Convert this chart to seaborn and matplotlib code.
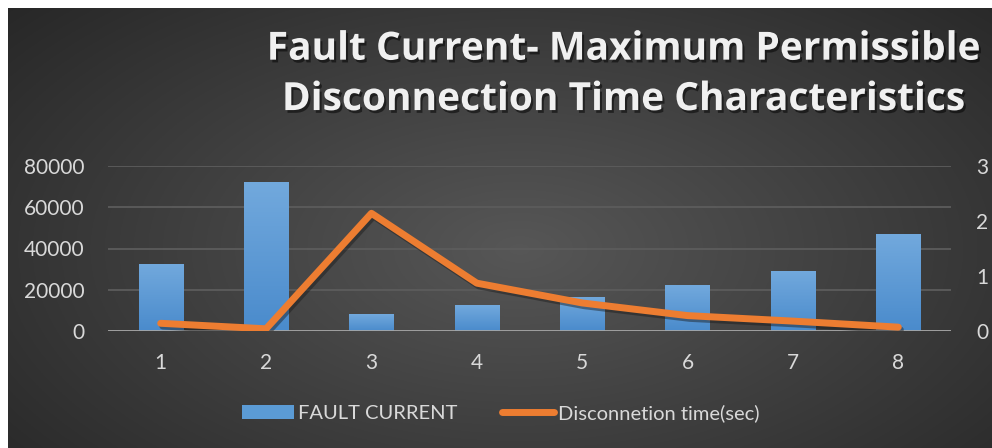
import numpy as np
import pandas as pd
import matplotlib
matplotlib.use("Agg")
import matplotlib.pyplot as plt
import matplotlib.patheffects as pe
from matplotlib.patches import Patch
from matplotlib.lines import Line2D
import seaborn as sns

# data
categories = ["1", "2", "3", "4", "5", "6", "7", "8"]
fault_current = [32500, 72300, 8200, 12600, 16600, 22300, 29100, 47100]
disconnection_time = [0.14, 0.04, 2.14, 0.87, 0.51, 0.28, 0.18, 0.07]
left_ticks = [0, 20000, 40000, 60000, 80000]
right_ticks = [0, 1, 2, 3]

sns.set_theme(style="dark")
plt.rcParams["font.family"] = ["Lato", "DejaVu Sans"]

TXT = "#d9d9d9"
BLUE = "#5b9bd5"
ORANGE = "#ed7d31"

fig = plt.figure(figsize=(9.92, 4.48), dpi=100)
fig.patch.set_facecolor("white")

# dark radial background
bg = fig.add_axes([8 / 992, 0, 1 - 8 / 992, 1 - 8 / 448], zorder=-5)
yy, xx = np.mgrid[0:1:300j, 0:1:600j]
r = np.sqrt(((xx - 0.52) / 0.75) ** 2 + ((yy - 0.55) / 0.9) ** 2)
g = np.clip(0.34 - 0.2 * r, 0.15, 0.34)
bg.imshow(np.dstack([g, g, g]), aspect="auto", extent=[0, 1, 0, 1])
bg.set_axis_off()

ax = fig.add_axes([108 / 992, 1 - 331 / 448, (951 - 108) / 992, (331 - 166) / 448])
ax.patch.set_alpha(0)

df = pd.DataFrame({"cat": categories, "current": fault_current, "time": disconnection_time})
sns.barplot(data=df, x="cat", y="current", color=BLUE, width=0.42,
            saturation=1, ax=ax, zorder=3, edgecolor="none", linewidth=0)

# vertical gradient on the bars
grad = np.linspace(0, 1, 100).reshape(-1, 1)
cmap = matplotlib.colors.LinearSegmentedColormap.from_list("b", ["#72a9dd", "#4a8bcc"])
for p in ax.patches:
    x0, y0 = p.get_x(), p.get_y()
    w, h = p.get_width(), p.get_height()
    im = ax.imshow(grad, cmap=cmap, aspect="auto", extent=[x0, x0 + w, y0, y0 + h],
                   origin="upper", zorder=3.5)
    im.set_clip_path(p)

ax.set_xlim(-0.5, len(categories) - 0.5)
ax.set_ylim(0, 80000)
ax.set_yticks(left_ticks)
ax.set_yticklabels([str(t) for t in left_ticks])
ax.set_xlabel("")
ax.set_ylabel("")
ax.grid(axis="y", color="#5c5c5c", linewidth=1.3, zorder=0)
ax.grid(axis="x", visible=False)
ax.axhline(0, color="#a6a6a6", linewidth=2, zorder=4)
for s in ax.spines.values():
    s.set_visible(False)
ax.tick_params(axis="both", colors=TXT, labelsize=15, length=0)
ax.tick_params(axis="x", pad=16)
ax.tick_params(axis="y", pad=17)

ax2 = ax.twinx()
sns.lineplot(x=np.arange(len(categories)), y=disconnection_time, ax=ax2, color=ORANGE,
             linewidth=5, solid_capstyle="round", solid_joinstyle="round", zorder=5,
             path_effects=[pe.SimpleLineShadow(offset=(1.5, -2), alpha=0.45), pe.Normal()])
ax2.set_ylim(0, 3)
ax2.set_yticks(right_ticks)
ax2.set_xlim(-0.5, len(categories) - 0.5)
ax2.grid(False)
ax2.patch.set_alpha(0)
for s in ax2.spines.values():
    s.set_visible(False)
ax2.tick_params(axis="y", colors=TXT, labelsize=15, length=0, pad=18)

title = fig.text(0.628, 0.834, "Fault Current- Maximum Permissible\nDisconnection Time Characteristics",
                 ha="center", va="center", color="#f0f0f0", fontsize=28, fontweight="bold",
                 family=["Open Sans", "DejaVu Sans"], linespacing=1.38)
title.set_path_effects([pe.withSimplePatchShadow(offset=(1.5, -2), shadow_rgbFace="black", alpha=0.5)])

handles = [Patch(facecolor=BLUE, edgecolor="none"),
           Line2D([0], [0], color=ORANGE, linewidth=5, solid_capstyle="round")]
leg = fig.legend(handles, ["FAULT CURRENT", "Disconnetion time(sec)"], loc="center",
                 bbox_to_anchor=(0.505, 0.078), ncol=2, frameon=False, fontsize=14.5,
                 handlelength=2.6, handletextpad=0.2, columnspacing=2.2)
for t in leg.get_texts():
    t.set_color(TXT)

fig.savefig("out.png", dpi=100)
